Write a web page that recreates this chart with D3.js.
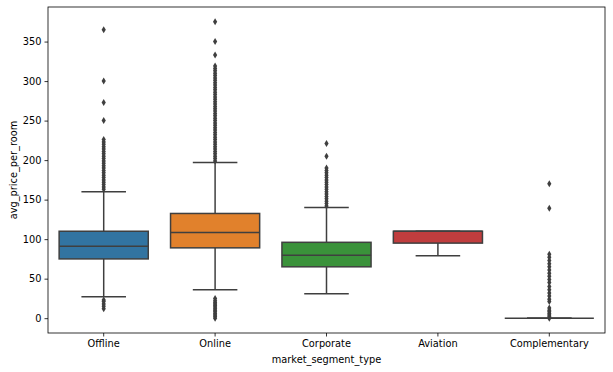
<!DOCTYPE html>
<html lang="en">
<head>
<meta charset="UTF-8">
<title>avg_price_per_room by market_segment_type</title>
<script src="https://d3js.org/d3.v7.min.js"></script>
<style>
  body { margin: 0; background: #fff; }
  svg text { font-family: "DejaVu Sans", sans-serif; fill: #000; }
</style>
</head>
<body>
<svg id="chart" width="613" height="372"></svg>
<script>
// box stats
const categories = ["Offline", "Online", "Corporate", "Aviation", "Complementary"];
const colors = ["#3274a1", "#e1812c", "#3a923a", "#c03d3e", "#9372b2"];
const q1 = [75, 89, 65, 95, 0];
const medians = [91, 108.5, 79.5, 110, 0];
const q3 = [110, 132.5, 96, 110, 0];
const whiskerLow = [27, 36, 31, 79, 0];
const whiskerHigh = [160, 197, 140, 110, 0];

// fliers per category
const fliersOffline = [12, 15, 18, 21, 23,
  163, 166, 169, 172, 175, 178, 181, 184, 187, 190, 193, 196, 199, 202, 205, 208, 211, 214, 217, 220, 223, 226,
  250, 273, 300, 365];
const fliersOnline = [0, 2, 4, 6, 8, 10, 12, 14, 16, 18, 20, 22, 25,
  199, 202, 205, 208, 211, 214, 217, 220, 223, 226, 229, 232, 235, 238, 241, 244, 247, 250, 253, 256, 259,
  262, 265, 268, 271, 274, 277, 280, 283, 286, 289, 292, 295, 298, 301, 304, 307, 310, 313, 316, 319,
  333, 350, 375];
const fliersCorporate = [142, 145, 148, 151, 154, 157, 160, 163, 166, 169, 172, 175, 178, 181, 184, 187, 190, 205, 221];
const fliersAviation = [];
const fliersComplementary = [0, 2, 4, 6, 8, 10, 13, 21, 24, 28, 32, 36, 40, 45, 49, 53, 57, 61, 65, 69, 73, 77, 81, 139, 170];
const fliers = [fliersOffline, fliersOnline, fliersCorporate, fliersAviation, fliersComplementary];

const yTicks = [0, 50, 100, 150, 200, 250, 300, 350];

const svg = d3.select("#chart");
const plotLeft = 48, plotRight = 605, plotTop = 7, plotBottom = 333;
const lineColor = "#3f3f3f";

const x = d3.scaleBand().domain(categories).range([plotLeft, plotRight]).paddingInner(0).paddingOuter(0);
const y = d3.scaleLinear().domain([-18.75, 393.75]).range([plotBottom, plotTop]);

const boxW = x.bandwidth() * 0.8;
const capW = boxW / 2;

const g = svg.append("g");

categories.forEach((c, i) => {
  const cx = x(c) + x.bandwidth() / 2;
  const grp = g.append("g");
  // whiskers
  grp.append("line").attr("x1", cx).attr("x2", cx).attr("y1", y(q1[i])).attr("y2", y(whiskerLow[i]))
    .attr("stroke", lineColor).attr("stroke-width", 1.5);
  grp.append("line").attr("x1", cx).attr("x2", cx).attr("y1", y(q3[i])).attr("y2", y(whiskerHigh[i]))
    .attr("stroke", lineColor).attr("stroke-width", 1.5);
  // caps
  [whiskerLow[i], whiskerHigh[i]].forEach(v => {
    grp.append("line").attr("x1", cx - capW / 2).attr("x2", cx + capW / 2).attr("y1", y(v)).attr("y2", y(v))
      .attr("stroke", lineColor).attr("stroke-width", 1.5);
  });
  // box
  grp.append("rect")
    .attr("x", cx - boxW / 2).attr("width", boxW)
    .attr("y", y(q3[i])).attr("height", Math.max(0, y(q1[i]) - y(q3[i])))
    .attr("fill", colors[i]).attr("stroke", lineColor).attr("stroke-width", 1.5);
  // median
  grp.append("line").attr("x1", cx - boxW / 2).attr("x2", cx + boxW / 2)
    .attr("y1", y(medians[i])).attr("y2", y(medians[i]))
    .attr("stroke", lineColor).attr("stroke-width", 1.5);
  // fliers (thin diamonds)
  grp.selectAll("path.flier").data(fliers[i]).enter().append("path")
    .attr("class", "flier")
    .attr("d", d => {
      const py = y(d);
      return `M${cx},${py - 3.5}L${cx + 2.1},${py}L${cx},${py + 3.5}L${cx - 2.1},${py}Z`;
    })
    .attr("fill", lineColor);
});

// axes
const yAxis = d3.axisLeft(y).tickValues(yTicks).tickSize(3.5).tickPadding(3);
const yg = svg.append("g").attr("transform", `translate(${plotLeft},0)`).call(yAxis);
const xAxis = d3.axisBottom(x).tickSize(3.5).tickPadding(3);
const xg = svg.append("g").attr("transform", `translate(0,${plotBottom})`).call(xAxis);
[yg, xg].forEach(a => {
  a.select(".domain").remove();
  a.selectAll(".tick line").attr("stroke", "#000").attr("stroke-width", 0.8);
  a.selectAll(".tick text").style("font-size", "9.8px").attr("fill", "#000");
});
xg.selectAll(".tick text").attr("dy", "0.75em");

// spines
svg.append("rect").attr("x", plotLeft).attr("y", plotTop)
  .attr("width", plotRight - plotLeft).attr("height", plotBottom - plotTop)
  .attr("fill", "none").attr("stroke", "#000").attr("stroke-width", 0.8);

// axis labels
svg.append("text").attr("x", (plotLeft + plotRight) / 2).attr("y", 362.5).attr("text-anchor", "middle")
  .style("font-size", "9.8px").text("market_segment_type");
svg.append("text").attr("transform", `translate(16.5,${(plotTop + plotBottom) / 2}) rotate(-90)`)
  .attr("text-anchor", "middle").style("font-size", "9.8px").text("avg_price_per_room");
</script>
</body>
</html>
